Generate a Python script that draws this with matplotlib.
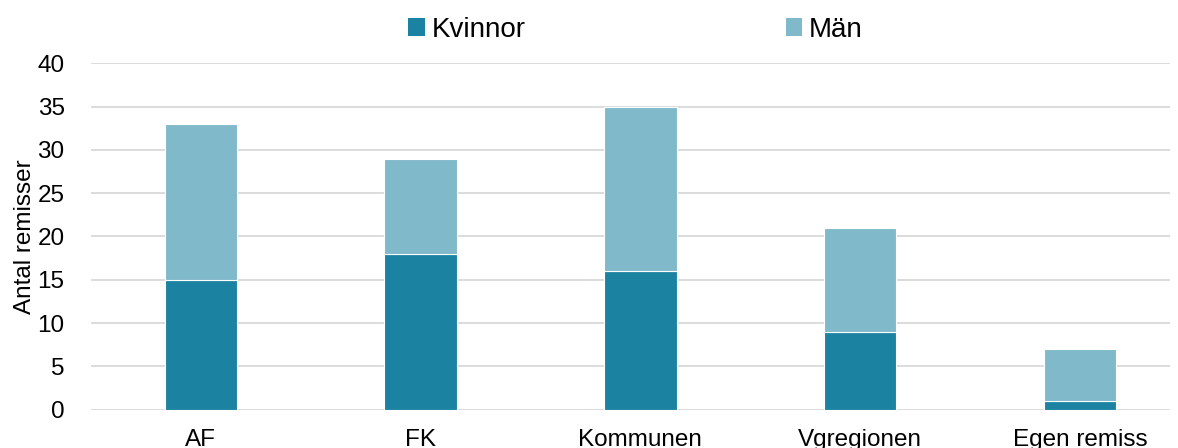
import matplotlib.pyplot as plt
from matplotlib.patches import Patch

plt.rcParams['font.family'] = ['Liberation Sans', 'DejaVu Sans']

categories = ['AF', 'FK', 'Kommunen', 'Vgregionen', 'Egen remiss']
kvinnor = [15, 18, 16, 9, 1]
man = [18, 11, 19, 12, 6]

darkColor = '#1B83A1'
lightColor = '#80B9CA'

fig = plt.figure(figsize=(11.78, 4.48), dpi=100)
ax = fig.add_axes([91 / 1178, 1 - 409.5 / 448, (1170 - 91) / 1178, (409.5 - 63.5) / 448])

x = list(range(len(categories)))
ax.bar(x, kvinnor, width=0.33, color=darkColor, edgecolor='white', linewidth=0.8, zorder=3)
ax.bar(x, man, width=0.33, bottom=kvinnor, color=lightColor, edgecolor='white', linewidth=0.8, zorder=3)

ax.set_xlim(-0.5, 4.41)
ax.set_ylim(0, 40)
ax.set_yticks(range(0, 41, 5))
ax.set_xticks(x)
ax.set_xticklabels(categories)
ax.tick_params(axis='both', length=0, labelsize=17.5, colors='black')
ax.tick_params(axis='x', pad=14)
ax.tick_params(axis='y', pad=19)
ax.grid(axis='y', color='#D9D9D9', linewidth=1.3, zorder=0)
for s in ax.spines.values():
    s.set_visible(False)
ax.set_ylabel('Antal remisser', fontsize=17.5, labelpad=1)

handles = [Patch(facecolor=darkColor), Patch(facecolor=lightColor)]
fig.legend(handles, ['Kvinnor', 'Män'], loc='center', bbox_to_anchor=(0.5395, 1 - 30 / 448),
           ncol=2, frameon=False, fontsize=20, handlelength=0.6, handleheight=0.6,
           handletextpad=0.25, columnspacing=9.35, borderaxespad=0)

fig.savefig('out.png', dpi=100)
